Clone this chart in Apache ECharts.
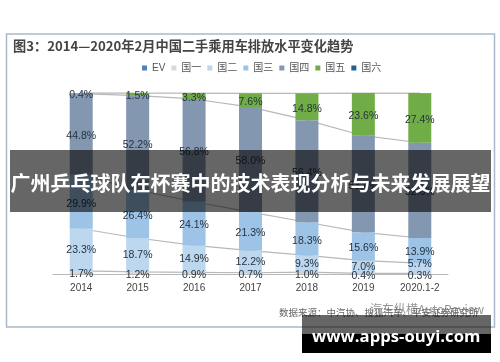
<!DOCTYPE html>
<html>
<head>
<meta charset="utf-8">
<style>
html, body { margin: 0; padding: 0; background: #fff; }
#chart { width: 500px; height: 362px; }
</style>
<script src="https://cdn.jsdelivr.net/npm/echarts@6/dist/echarts.min.js"></script>
</head>
<body>
<div id="chart"></div>
<script>
const categories = ['2014', '2015', '2016', '2017', '2018', '2019', '2020.1-2']
const ev = [0, 0, 0, 0, 0, 0, 0]
const guo1 = [1.7, 1.2, 0.9, 0.7, 1.0, 0.4, 0.3]
const guo2 = [23.3, 18.7, 14.9, 12.2, 9.3, 7.0, 5.7]
const guo3 = [29.9, 26.4, 24.1, 21.3, 18.3, 15.6, 13.9]
const guo4 = [44.8, 52.2, 56.8, 58.0, 56.4, 53.4, 52.6]
const guo5 = [0.4, 1.5, 3.3, 7.6, 14.8, 23.6, 27.4]
const guo6 = [0, 0, 0, 0, 0, 0, 0.1]

const seriesNames = ['EV', '国一', '国二', '国三', '国四', '国五', '国六']
const seriesValues = [ev, guo1, guo2, guo3, guo4, guo5, guo6]
const seriesColors = ['#4f81bd', '#d9d9d9', '#bdd7ee', '#9dc3e6', '#8497b0', '#70ad47', '#255e91']

const cjk = '"Noto Sans CJK SC", sans-serif'
const latin = '"Liberation Sans", "Noto Sans CJK SC", sans-serif'

var series = []
seriesNames.forEach((name, i) => {
	// 柱子
	series.push({
		name: name,
		type: 'bar',
		stack: 'bars',
		barWidth: 23,
		z: 3,
		itemStyle: { color: seriesColors[i] },
		label: {
			show: name !== 'EV' && name !== '国六',
			position: 'inside',
			offset: [0, 2],
			fontFamily: latin,
			fontSize: 10.5,
			color: '#26323f',
			formatter: (p) => p.value.toFixed(1) + '%'
		},
		// 2020的5.7%原图标签偏上，避开0.3%
		labelLayout: name === '国二' ? (p) => (p.dataIndex === 6 ? { dy: -4 } : {}) : undefined,
		data: seriesValues[i]
	})
	// 柱子之间的连接线
	if (i > 0) {
		series.push({
			name: name + '-line',
			type: 'line',
			stack: 'lines',
			symbol: 'none',
			silent: true,
			z: 2,
			lineStyle: { color: '#b8b8b8', width: 1.2 },
			data: seriesValues[i]
		})
	}
})

var option = {
	animation: false,
	backgroundColor: '#fff',
	textStyle: { fontFamily: latin },
	legend: {
		data: seriesNames,
		left: 137,
		top: 58,
		itemWidth: 5,
		itemHeight: 5,
		itemGap: 6,
		icon: 'rect',
		textStyle: { fontSize: 10, color: '#555' }
	},
	grid: { left: 53, right: 52, top: 93, bottom: 88 },
	xAxis: {
		type: 'category',
		data: categories,
		axisTick: { show: false },
		axisLine: { lineStyle: { color: '#b8b8b8', width: 1 } },
		axisLabel: { fontSize: 10, color: '#444', margin: 9 }
	},
	yAxis: {
		type: 'value',
		min: 0,
		max: 100,
		show: false
	},
	series: series,
	graphic: [
		// 外框
		{ type: 'rect', z: 1, shape: { x: 6.5, y: 34, width: 488, height: 293 }, style: { fill: 'none', stroke: '#a9b9c9', lineWidth: 1.5 } },
		{ type: 'text', z: 10, style: { x: 13, y: 39, text: '图3：2014—2020年2月中国二手乘用车排放水平变化趋势', fontFamily: cjk, fontSize: 13.2, fontWeight: 'bold', fill: '#444' } },
		{ type: 'text', z: 10, style: { x: 279, y: 308, text: '数据来源：中汽协、搜狐汽车、平安证券研究所', fontFamily: cjk, fontSize: 9.5, fill: '#666' } },
		{ type: 'text', z: 10, style: { x: 370, y: 303, text: '汽车纵横AutoReview', fontFamily: cjk, fontSize: 12, fill: 'rgba(110,110,110,0.75)' } },
		// 遮盖的横幅和网址
		{ type: 'rect', z: 20, shape: { x: 10, y: 150, width: 481, height: 62 }, style: { fill: 'rgba(0,0,0,0.6)' } },
		{ type: 'text', z: 21, style: { x: 10.5, y: 173, text: '广州乒乓球队在杯赛中的技术表现分析与未来发展展望', fontFamily: cjk, fontSize: 20, fontWeight: 'bold', fill: '#fff' } },
		{ type: 'rect', z: 20, shape: { x: 302, y: 315, width: 189, height: 19 }, style: { fill: 'rgba(0,0,0,0.6)' } },
		{ type: 'rect', z: 20, shape: { x: 302, y: 334, width: 189, height: 19 }, style: { fill: '#000' } },
		{ type: 'text', z: 21, style: { x: 312, y: 329, text: 'www.apps-ouyi.com', fontFamily: '"Open Sans", sans-serif', fontSize: 16.7, fontWeight: 'bold', fill: '#fff' } }
	]
}

var myChart = echarts.init(document.getElementById('chart'), null, { renderer: 'canvas' })
myChart.setOption(option)
</script>
</body>
</html>
